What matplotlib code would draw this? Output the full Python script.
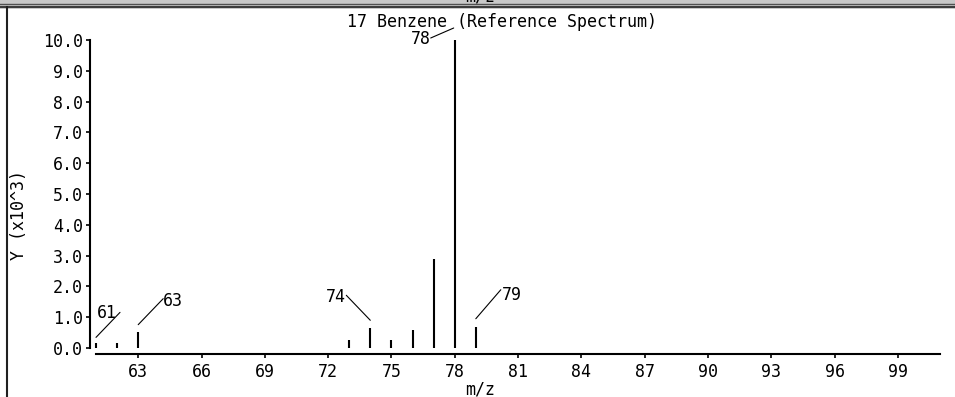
import matplotlib
matplotlib.use("Agg")
import matplotlib.pyplot as plt
from matplotlib.lines import Line2D
from matplotlib.ticker import FormatStrFormatter
from matplotlib.transforms import offset_copy

plt.rcParams['font.family'] = ['DejaVu Sans Mono']
plt.rcParams['font.size'] = 12

# peak list, intensity in units of 10^3
mz = [61, 62, 63, 73, 74, 75, 76, 77, 78, 79]
intensity = [0.15, 0.15, 0.53, 0.27, 0.64, 0.27, 0.58, 2.88, 10.0, 0.69]

# labelled peaks: leader start / end and text offset, in pixels from the peak top
labels = [61, 63, 74, 78, 79]
leader_start = [(0, 6), (0, 7), (0, 8), (-1, 12), (0, 8)]
leader_end = [(24, 31), (25, 33), (-24, 33), (-24, 2), (25, 37)]
text_offset = [(1, 30), (25, 31), (-24, 31), (-24, 1), (26, 32)]
text_align = ['left', 'left', 'right', 'right', 'left']

title = "17 Benzene (Reference Spectrum)"
xticks = list(range(63, 100, 3))
yticks = list(range(0, 11))

W, H = 955, 397
fig = plt.figure(figsize=(W / 100, H / 100), dpi=100)
ax = fig.add_axes([96 / W, 1 - 348 / H, 844 / W, 308 / H])

ax.vlines(mz, 0, intensity, colors='black', linewidth=1.5, clip_on=False)

ax.set_xlim(61, 101)
ax.set_ylim(0, 10)
ax.set_xticks(xticks)
ax.set_yticks(yticks)
ax.yaxis.set_major_formatter(FormatStrFormatter('%.1f'))
ax.tick_params(direction='out', length=3, width=1.2, colors='black', labelsize=12)
ax.tick_params(axis='x', pad=3.6)
ax.tick_params(axis='y', pad=2.6)

for side in ['top', 'right']:
    ax.spines[side].set_visible(False)
ax.spines['left'].set_position(('outward', 4))
ax.spines['bottom'].set_position(('outward', 4.3))
for side in ['left', 'bottom']:
    ax.spines[side].set_linewidth(1.5)

heights = dict(zip(mz, intensity))
for lab, s, e, t, ha in zip(labels, leader_start, leader_end, text_offset, text_align):
    h = heights[lab]
    ax.annotate('', xy=(lab, h),
                xycoords=offset_copy(ax.transData, fig=fig, x=s[0], y=s[1], units='dots'),
                xytext=(lab, h),
                textcoords=offset_copy(ax.transData, fig=fig, x=e[0], y=e[1], units='dots'),
                arrowprops=dict(arrowstyle='-', lw=0.8, color='black', shrinkA=0, shrinkB=0),
                annotation_clip=False)
    ax.annotate(str(lab), xy=(lab, h), xytext=t, textcoords='offset pixels',
                ha=ha, va='center', fontsize=12, annotation_clip=False)

fig.text(502 / W, 1 - 22 / H, title, ha='center', va='center', fontsize=12)
fig.text(19 / W, 1 - 215 / H, "Y (x10^3)", rotation=90, ha='center', va='center', fontsize=12)
fig.text(480 / W, 1 - 389 / H, "m/z", ha='center', va='center', fontsize=12)

# window frame around the panel
fig.add_artist(plt.Rectangle((0, 1 - 9 / H), 1, 9 / H, transform=fig.transFigure,
                             facecolor='#c8c8c8', edgecolor='none', zorder=0))
# bottom of the x label from the panel above
fig.text(480 / W, 1 - 1.5 / H, "m/z", ha='center', va='baseline', fontsize=12, zorder=1)
fig.add_artist(Line2D([0, 1], [1 - 3.5 / H] * 2, transform=fig.transFigure,
                      color='#505050', linewidth=1.0, zorder=2))
fig.add_artist(Line2D([0, 1], [1 - 7 / H] * 2, transform=fig.transFigure,
                      color='#202020', linewidth=1.2, zorder=2))
fig.add_artist(Line2D([7 / W] * 2, [0, 1 - 7 / H], transform=fig.transFigure,
                      color='#202020', linewidth=1.5, zorder=2))

fig.savefig("out.png", dpi=100)
